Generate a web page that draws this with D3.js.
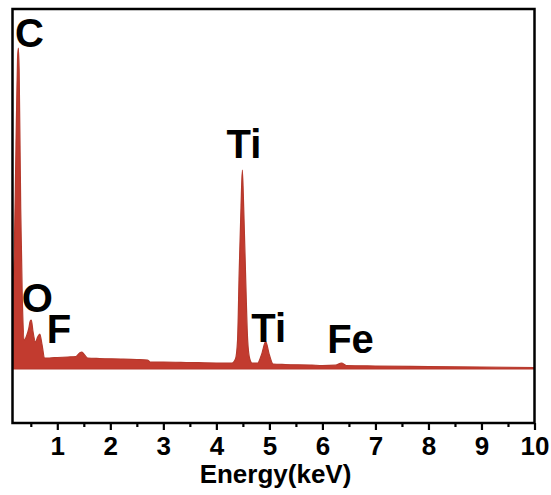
<!DOCTYPE html>
<html>
<head>
<meta charset="utf-8">
<script src="https://cdn.jsdelivr.net/npm/d3@7"></script>
<style>
  body { margin: 0; background: #fff; }
  svg text { font-family: "Liberation Sans", Arial, sans-serif; font-weight: bold; }
</style>
</head>
<body>
<div id="chart"></div>
<script>
// EDS spectrum, energy in keV, counts in arbitrary units
const energy = [0.16, 0.19, 0.22, 0.25, 0.265, 0.28, 0.31, 0.34, 0.38, 0.42, 0.46, 0.49, 0.51, 0.54, 0.59, 0.63, 0.67, 0.71, 0.76,
  0.85, 1.0, 1.2, 1.35, 1.42, 1.46, 1.5, 1.57, 1.8, 2.2, 2.5, 2.7, 2.75, 3.0, 3.5, 4.0, 4.3,
  4.36, 4.40, 4.43, 4.465, 4.49, 4.515, 4.55, 4.59, 4.63, 4.67, 4.78, 4.85, 4.93, 5.0, 5.07, 5.3, 5.8,
  6.0, 6.25, 6.36, 6.45, 7.0, 8.0, 9.0, 10.0];
const counts = [860, 1200, 2200, 3100, 3210, 3000, 1600, 700, 290, 330, 400, 480, 490, 380, 270, 320, 350, 250, 110,
  110, 115, 120, 125, 160, 170, 150, 110, 105, 100, 95, 90, 70, 70, 65, 60, 60,
  100, 290, 960, 1620, 1990, 1620, 960, 290, 100, 60, 60, 140, 273, 140, 50, 45, 40,
  35, 38, 60, 35, 30, 25, 20, 15];

const xTicks = [1, 2, 3, 4, 5, 6, 7, 8, 9, 10];
const xMinorTicks = [0.5, 1.5, 2.5, 3.5, 4.5, 5.5, 6.5, 7.5, 8.5, 9.5];

const peakNames = ["C", "Ti", "O", "F", "Ti", "Fe"];
const peakE = [0.2, 4.19, 0.33, 0.8, 4.66, 6.09];
const peakC = [3220, 2110, 570, 260, 270, 160];

const spectrum = energy.map((e, i) => ({ e: e, c: counts[i] }));

const w = 551, h = 495;
const pLeft = 12.5, pRight = 534.5, pTop = 9, pBottom = 423;

const svg = d3.select("#chart").append("svg")
  .attr("width", w)
  .attr("height", h);

// scales
const xScale = d3.scaleLinear()
  .domain([0.155, 10])
  .range([pLeft, pRight]);

const yScale = d3.scaleLinear()
  .domain([-540, 3600])
  .range([pBottom, pTop]);

svg.append("clipPath").attr("id", "clip")
  .append("rect")
  .attr("x", pLeft).attr("y", pTop)
  .attr("width", pRight - pLeft).attr("height", pBottom - pTop);

// filled spectrum
const area = d3.area()
  .x((d) => xScale(d.e))
  .y0(yScale(0))
  .y1((d) => yScale(d.c))
  .curve(d3.curveMonotoneX);

svg.append("path")
  .attr("clip-path", "url(#clip)")
  .attr("d", area(spectrum))
  .attr("fill", "#c23b2f")
  .attr("stroke", "#b5392c")
  .attr("stroke-width", 1.2);

// peak labels
svg.selectAll(".peak")
  .data(peakNames)
  .enter().append("text")
  .attr("class", "peak")
  .attr("x", (d, i) => xScale(peakE[i]))
  .attr("y", (d, i) => yScale(peakC[i]))
  .attr("font-size", 40)
  .attr("fill", "#000")
  .text((d) => d);

// x axis, major and minor ticks
const xAxis = d3.axisBottom(xScale)
  .tickValues(xTicks)
  .tickSize(7)
  .tickPadding(7)
  .tickFormat(d3.format("d"));

const gx = svg.append("g")
  .attr("transform", "translate(0," + pBottom + ")")
  .call(xAxis);
gx.select(".domain").remove();
gx.selectAll(".tick line").attr("stroke", "#000").attr("stroke-width", 2.2);
gx.selectAll(".tick text")
  .attr("font-size", 26)
  .attr("fill", "#000")
  .attr("dy", "0.71em");

const gxm = svg.append("g")
  .attr("transform", "translate(0," + pBottom + ")")
  .call(d3.axisBottom(xScale).tickValues(xMinorTicks).tickSize(4).tickFormat(""));
gxm.select(".domain").remove();
gxm.selectAll(".tick line").attr("stroke", "#000").attr("stroke-width", 2.2);

// frame
svg.append("rect")
  .attr("x", pLeft).attr("y", pTop)
  .attr("width", pRight - pLeft).attr("height", pBottom - pTop)
  .attr("fill", "none")
  .attr("stroke", "#000")
  .attr("stroke-width", 2.5);

// axis title
svg.append("text")
  .attr("x", (pLeft + pRight) / 2 + 2)
  .attr("y", 483)
  .attr("text-anchor", "middle")
  .attr("font-size", 26)
  .attr("fill", "#000")
  .text("Energy(keV)");
</script>
</body>
</html>
